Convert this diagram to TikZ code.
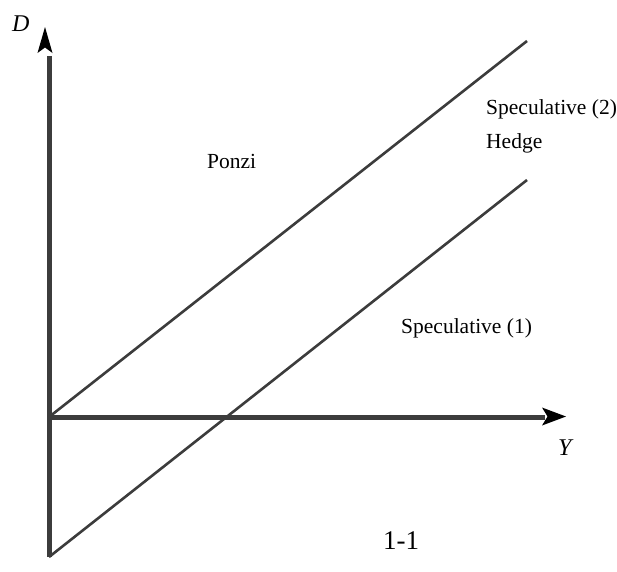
\documentclass[tikz,border=0pt]{standalone}
\usepackage{fontspec}
\setmainfont{Liberation Serif}
\begin{document}
\begin{tikzpicture}[x=1pt,y=-1pt,
  axisline/.style={line width=5pt,draw=axisgray},
  thinline/.style={line width=2.6pt,draw=axisgray},
  tipshape/.style={fill=black},
  lbl/.style={inner sep=0pt,anchor=base west,font=\fontsize{21.5}{24}\selectfont},
  axlbl/.style={inner sep=0pt,anchor=base west,font=\fontsize{24}{26}\selectfont\itshape}]
\definecolor{axisgray}{HTML}{3C3C3C}
\useasboundingbox (0,0) rectangle (617,571);
% coordinates
\coordinate (O) at (49,417);
\coordinate (B) at (49,557);
\coordinate (Vtop) at (49,56);
\coordinate (Hend) at (545,417);
\coordinate (L1end) at (527,41);
\coordinate (L2end) at (527,180);
% axes
\draw[axisline] (B) -- (Vtop);
\draw[axisline] (O) -- (Hend);
% arrow heads
\fill[tipshape] (45,27) -- (52.5,53) -- (45,47.5) -- (37.5,53) -- cycle;
\fill[tipshape] (566,416.5) -- (542,407.5) -- (547.5,416.5) -- (542,425.5) -- cycle;
% diagonal lines
\draw[thinline] (O) -- (L1end);
\draw[thinline] (B) -- (L2end);
% labels
\node[axlbl] (D) at (12,31) {D};
\node[axlbl] (Y) at (558,455) {Y};
\node[lbl] (ponzi) at (207,168) {Ponzi};
\node[lbl] (spec2) at (486,114) {Speculative (2)};
\node[lbl] (hedge) at (486,148) {Hedge};
\node[lbl] (spec1) at (401,333) {Speculative (1)};
\node[inner sep=0pt,anchor=base,font=\fontsize{27}{30}\selectfont] (cap) at (401,549) {1-1};
\end{tikzpicture}
\end{document}
